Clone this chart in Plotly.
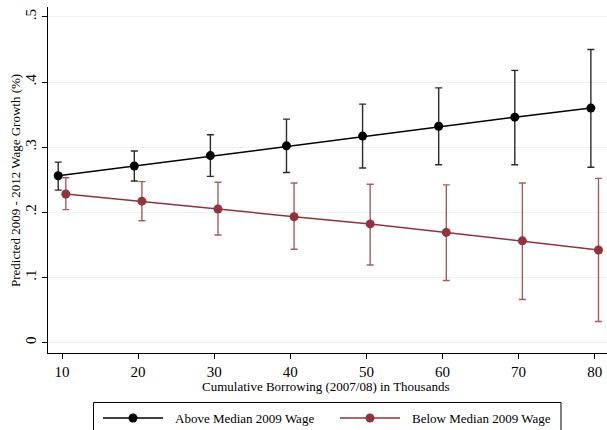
import plotly.graph_objects as go

# ---- data ----
borrowing = [10, 20, 30, 40, 50, 60, 70, 80]
above = [0.256, 0.271, 0.287, 0.302, 0.317, 0.332, 0.346, 0.360]
above_lo = [0.234, 0.248, 0.255, 0.261, 0.268, 0.273, 0.273, 0.269]
above_hi = [0.277, 0.294, 0.319, 0.343, 0.366, 0.391, 0.418, 0.450]
below = [0.228, 0.217, 0.205, 0.193, 0.182, 0.169, 0.156, 0.142]
below_lo = [0.204, 0.187, 0.165, 0.143, 0.119, 0.095, 0.066, 0.032]
below_hi = [0.253, 0.247, 0.246, 0.245, 0.243, 0.242, 0.245, 0.252]
y_tickvals = [0, 0.1, 0.2, 0.3, 0.4, 0.5]
y_ticktext = ["0", ".1", ".2", ".3", ".4", ".5"]
x_tickvals = [10, 20, 30, 40, 50, 60, 70, 80]
series_names = ["Above Median 2009 Wage", "Below Median 2009 Wage"]

BLACK = "#000000"
RED = "#90353B"
FONT = "Liberation Serif, Times New Roman, serif"
DODGE = 0.5

fig = go.Figure()

fig.add_trace(go.Scatter(
    x=[b - DODGE for b in borrowing], y=above, mode="lines+markers",
    name=series_names[0],
    line=dict(color=BLACK, width=1.5),
    marker=dict(color=BLACK, size=9),
    error_y=dict(type="data", symmetric=False,
                 array=[h - v for h, v in zip(above_hi, above)],
                 arrayminus=[v - l for v, l in zip(above, above_lo)],
                 color="rgba(20,20,20,0.9)", thickness=1.4, width=3.5),
    showlegend=False,
))
fig.add_trace(go.Scatter(
    x=[b + DODGE for b in borrowing], y=below, mode="lines+markers",
    name=series_names[1],
    line=dict(color=RED, width=1.5),
    marker=dict(color=RED, size=9),
    error_y=dict(type="data", symmetric=False,
                 array=[h - v for h, v in zip(below_hi, below)],
                 arrayminus=[v - l for v, l in zip(below, below_lo)],
                 color="rgba(144,53,59,0.8)", thickness=1.4, width=3.5),
    showlegend=False,
))

W, H = 607, 430
L, R, T, B = 48, 0, 7, 77
pw, ph = W - L - R, H - T - B


def px_x(p):
    return (p - L) / pw


def px_y(p):
    return (H - B - p) / ph


fig.update_layout(
    width=W, height=H,
    margin=dict(l=L, r=R, t=T, b=B),
    paper_bgcolor="white", plot_bgcolor="white",
    font=dict(family=FONT, color="black", size=15),
    xaxis=dict(range=[8.16, 81.62], tickvals=x_tickvals, showgrid=False,
               zeroline=False, showline=True, linecolor="black", linewidth=1.3,
               ticks="outside", ticklen=5, tickwidth=1, tickcolor="black",
               tickfont=dict(size=15, family=FONT)),
    yaxis=dict(range=[-0.0163, 0.5153], tickvals=y_tickvals, ticktext=y_ticktext,
               showgrid=True, gridcolor="#EAF2F3", gridwidth=1.2,
               zeroline=False, showline=True, linecolor="black", linewidth=1.3,
               ticks="outside", ticklen=5, tickwidth=1, tickcolor="black",
               tickangle=-90, tickfont=dict(size=15, family=FONT)),
)

# axis titles
fig.add_annotation(text="Cumulative Borrowing (2007/08) in Thousands",
                   xref="paper", yref="paper", x=px_x(325), y=px_y(386),
                   showarrow=False, font=dict(size=13, family=FONT),
                   xanchor="center", yanchor="middle")
fig.add_annotation(text="Predicted 2009 - 2012 Wage Growth (%)",
                   xref="paper", yref="paper", x=px_x(15), y=px_y(181),
                   showarrow=False, textangle=-90, font=dict(size=13, family=FONT),
                   xanchor="center", yanchor="middle")

# legend (drawn manually to match the reference layout)
fig.add_shape(type="rect", xref="paper", yref="paper",
              x0=px_x(93.5), x1=px_x(561), y0=px_y(402.5), y1=px_y(445),
              line=dict(color="black", width=1), fillcolor="white")
for (x0, x1, col, tx, name) in [(103, 163, BLACK, 173, series_names[0]),
                                 (340, 400, RED, 410, series_names[1])]:
    fig.add_shape(type="line", xref="paper", yref="paper",
                  x0=px_x(x0), x1=px_x(x1), y0=px_y(418), y1=px_y(418),
                  line=dict(color=col, width=1.5))
    cx = (x0 + x1) / 2
    fig.add_shape(type="circle", xref="paper", yref="paper",
                  x0=px_x(cx - 4.5), x1=px_x(cx + 4.5),
                  y0=px_y(418 - 4.5), y1=px_y(418 + 4.5),
                  line=dict(color=col, width=0), fillcolor=col)
    fig.add_annotation(text=name, xref="paper", yref="paper",
                       x=px_x(tx), y=px_y(418), showarrow=False,
                       xanchor="left", yanchor="middle",
                       font=dict(size=13, family=FONT))

fig.write_html("out.html",
               config={"displayModeBar": False},
               post_script="document.body.style.margin='0';"
                           "document.body.style.overflow='hidden';")
